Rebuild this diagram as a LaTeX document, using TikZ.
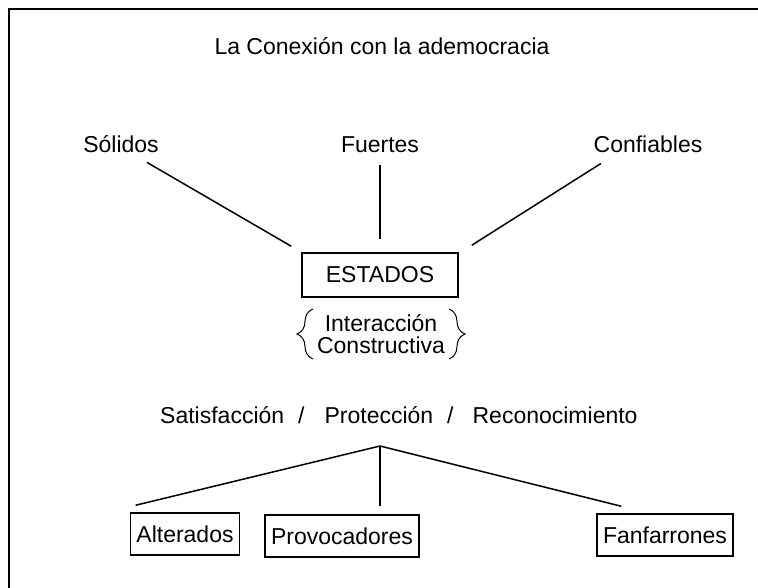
\documentclass[tikz,border=0pt]{standalone}
\usepackage{fontspec}
\setmainfont{Liberation Sans}
\usetikzlibrary{decorations.pathreplacing}

\begin{document}
\begin{tikzpicture}[
    x=1pt, y=-1pt,
    etiqueta/.style={anchor=base, inner sep=0pt,
      font=\fontsize{23}{23}\selectfont},
    caja/.style={rectangle, draw=black, line width=1.5pt,
      inner xsep=6pt, minimum height=42pt, text height=16pt,
      text depth=0pt, font=\fontsize{23}{23}\selectfont},
    linea/.style={-, line width=1.5pt},
    llave/.style={decorate, decoration={brace, amplitude=16pt},
      line width=1pt}
  ]
    \useasboundingbox (0,0) rectangle (758,588);
    % Marco
    \draw[line width=2pt] (9,9) rectangle (790,620);

    % Titulo
    \node[etiqueta] (titulo) at (382,55) {La Conexión con la ademocracia};

    % Cualidades
    \node[etiqueta] (solidos) at (121,153) {Sólidos};
    \node[etiqueta] (fuertes) at (380,153) {Fuertes};
    \node[etiqueta] (confiables) at (648,153) {Confiables};

    % Estados
    \node[caja, minimum width=156pt, minimum height=44pt]
      (estados) at (380,275) {ESTADOS};
    \node[inner sep=0pt, align=center,
      font=\fontsize{23}{22}\selectfont]
      (interaccion) at (381,334) {Interacción\\Constructiva};
    \draw[llave] (313,359) -- (313,309);
    \draw[llave] (449,309) -- (449,359);

    % Necesidades
    \node[etiqueta, anchor=base west] (necesidades) at (160,423)
      {Satisfacción\hspace{14pt}/\hspace{20pt}Protección\hspace{14pt}/\hspace{19pt}Reconocimiento};
    \coordinate (vertice) at (380,446);

    % Tipos
    \node[caja] (alterados) at (185,534) {Alterados};
    \node[caja] (provocadores) at (342,536) {Provocadores};
    \node[caja] (fanfarrones) at (665,535) {Fanfarrones};

    % Relaciones
    \draw[linea] ([xshift=26pt,yshift=-9pt]solidos.south)
      -- ([xshift=-10pt,yshift=6pt]estados.north west);
    \draw[linea] ([yshift=-12pt]fuertes.south)
      -- ([yshift=13pt]estados.north);
    \draw[linea] ([xshift=-47pt,yshift=-10pt]confiables.south)
      -- ([xshift=13pt,yshift=7pt]estados.north east);
    \draw[linea] (vertice) -- ([xshift=6pt,yshift=7pt]alterados.north west);
    \draw[linea, shorten >=8pt] (vertice) -- (vertice |- provocadores.north);
    \draw[linea] (vertice) -- ([xshift=25pt,yshift=7pt]fanfarrones.north west);
  \end{tikzpicture}
\end{document}
